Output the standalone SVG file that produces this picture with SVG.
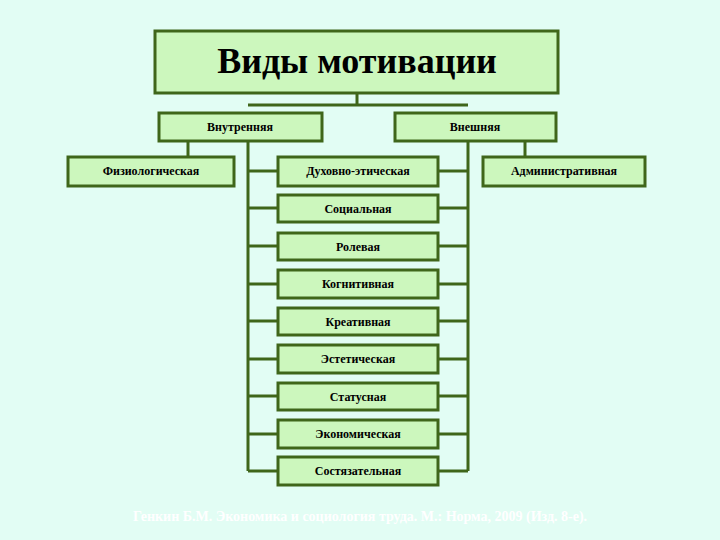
<svg xmlns="http://www.w3.org/2000/svg" width="720" height="540" viewBox="0 0 720 540">
<style>
.b{fill:#ccf7bd;stroke:#3f661a;stroke-width:3}
.c{stroke:#3f661a;stroke-width:3;fill:none}
.t{font-family:"Liberation Serif",serif;font-size:12px;font-weight:bold;text-anchor:middle;fill:#000}
</style>
<rect width="720" height="540" fill="#e2fdf4"/>
<g id="connectors" class="c">
<path d="M357 93V105M248 105H468M248 141V471M468 141V471M188 141V157M525 141V157"/>
<path d="M248 171H278M248 208H278M248 246H278M248 284H278M248 321H278M248 359H278M248 396H278M248 434H278M248 471H278"/>
<path d="M438 171H468M438 208H468M438 246H468M438 284H468M438 321H468M438 359H468M438 396H468M438 434H468M438 471H468"/>
</g>
<g id="title"><rect class="b" x="155" y="31" width="403" height="62"/><text x="357" y="73" style="font-family:'Liberation Serif',serif;font-size:36px;font-weight:bold;text-anchor:middle">Виды мотивации</text></g>
<g id="inner"><rect class="b" x="159" y="113" width="163" height="28"/><text class="t" x="240" y="131">Внутренняя</text></g>
<g id="outer"><rect class="b" x="395" y="113" width="161" height="28"/><text class="t" x="475" y="131">Внешняя</text></g>
<g id="fiz"><rect class="b" x="68" y="157" width="166" height="29"/><text class="t" x="151" y="175">Физиологическая</text></g>
<g id="adm"><rect class="b" x="483" y="157" width="162" height="29"/><text class="t" x="564" y="175">Административная</text></g>
<g id="duh"><rect class="b" x="278" y="157" width="160" height="29"/><text class="t" x="358" y="175">Духовно-этическая</text></g>
<g id="soc"><rect class="b" x="278" y="195" width="160" height="27"/><text class="t" x="358" y="213">Социальная</text></g>
<g id="rol"><rect class="b" x="278" y="233" width="160" height="27"/><text class="t" x="358" y="251">Ролевая</text></g>
<g id="kog"><rect class="b" x="278" y="270" width="160" height="28"/><text class="t" x="358" y="288">Когнитивная</text></g>
<g id="kre"><rect class="b" x="278" y="308" width="160" height="27"/><text class="t" x="358" y="326">Креативная</text></g>
<g id="est"><rect class="b" x="278" y="345" width="160" height="28"/><text class="t" x="358" y="363">Эстетическая</text></g>
<g id="sta"><rect class="b" x="278" y="383" width="160" height="27"/><text class="t" x="358" y="401">Статусная</text></g>
<g id="eko"><rect class="b" x="278" y="420" width="160" height="28"/><text class="t" x="358" y="438">Экономическая</text></g>
<g id="sos"><rect class="b" x="278" y="457" width="160" height="28"/><text class="t" x="358" y="475">Состязательная</text></g>
<text x="360" y="521" style="font-family:'Liberation Serif',serif;font-size:14px;font-weight:bold;text-anchor:middle;fill:#ffffff">Генкин Б.М. Экономика и социология труда. М.: Норма, 2009 (Изд. 8-е).</text>
</svg>
